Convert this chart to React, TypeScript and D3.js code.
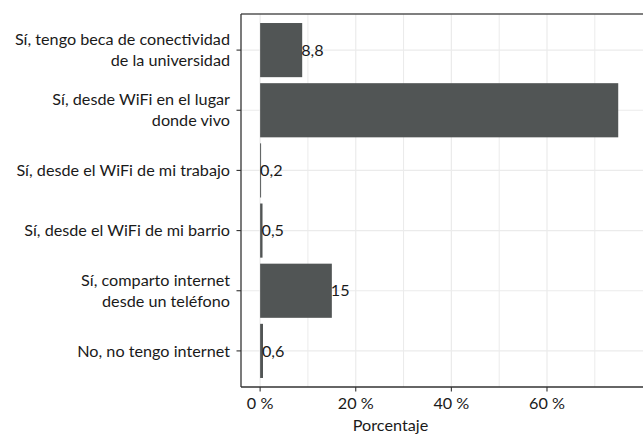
import React from "react";
import * as d3 from "d3";

const categories = [
  "Sí, tengo beca de conectividad\nde la universidad",
  "Sí, desde WiFi en el lugar\ndonde vivo",
  "Sí, desde el WiFi de mi trabajo",
  "Sí, desde el WiFi de mi barrio",
  "Sí, comparto internet\ndesde un teléfono",
  "No, no tengo internet",
];
const values = [8.8, 74.9, 0.2, 0.5, 15, 0.6];
const valueLabels = ["8,8", "", "0,2", "0,5", "15", "0,6"];
const xTicks = [0, 20, 40, 60];
const xMinor = [10, 30, 50, 70];
const xTickLabels = ["0 %", "20 %", "40 %", "60 %"];

const W = 643;
const H = 436;
const FONT = "Lato, 'Noto Sans', sans-serif";
const FS = 16.2;

export default function App() {
  const left = 241;
  const top = 14;
  const bottom = 387;
  const right = 645;
  const x = d3.scaleLinear().domain([-4, 80.5]).range([left, right]);
  const y = d3.scalePoint<string>().domain(categories).range([top, bottom]).padding(0.6);
  const step = y.step();
  const barH = step * 0.9;
  const barColor = "#515555";
  const grid = "#ebebeb";

  return (
    <svg width={W} height={H} style={{ position: "absolute", left: 0, top: 0, background: "#fff" }}>
      <rect x={0} y={0} width={W} height={H} fill="#fff" />
      {xMinor.map((v) => (
        <line key={"mi" + v} x1={x(v)} x2={x(v)} y1={top} y2={bottom} stroke={grid} strokeWidth={1} />
      ))}
      {xTicks.map((v) => (
        <line key={"ma" + v} x1={x(v)} x2={x(v)} y1={top} y2={bottom} stroke={grid} strokeWidth={1.2} />
      ))}
      {categories.map((c) => (
        <line key={"hg" + c} x1={left} x2={right} y1={y(c)} y2={y(c)} stroke={grid} strokeWidth={1.2} />
      ))}
      {categories.map((c, i) => (
        <rect
          key={"b" + c}
          x={x(0)}
          y={(y(c) as number) - barH / 2}
          width={x(values[i]) - x(0)}
          height={barH}
          fill={barColor}
        />
      ))}
      {categories.map((c, i) =>
        valueLabels[i] ? (
          <text
            key={"v" + c}
            x={x(values[i]) - 1}
            y={y(c) as number}
            dy="0.35em"
            fontFamily={FONT}
            fontSize={FS}
            fill="#1a1a1a"
          >
            {valueLabels[i]}
          </text>
        ) : null
      )}
      <line x1={left} x2={right} y1={top} y2={top} stroke="#555" strokeWidth={1.5} />
      <line x1={left} x2={left} y1={top} y2={bottom} stroke="#333" strokeWidth={1.3} />
      <line x1={left} x2={right} y1={bottom} y2={bottom} stroke="#333" strokeWidth={1.3} />
      {categories.map((c) => {
        const lines = c.split("\n");
        const cy = y(c) as number;
        const lh = 21;
        const start = cy - ((lines.length - 1) * lh) / 2;
        return (
          <g key={"yl" + c}>
            <line x1={left - 4.5} x2={left} y1={cy} y2={cy} stroke="#333" strokeWidth={1.1} />
            {lines.map((ln, j) => (
              <text
                key={j}
                x={left - 11}
                y={start + j * lh}
                dy="0.35em"
                textAnchor="end"
                fontFamily={FONT}
                fontSize={FS}
                fill="#1a1a1a"
              >
                {ln}
              </text>
            ))}
          </g>
        );
      })}
      {xTicks.map((v, i) => (
        <g key={"xt" + v}>
          <line x1={x(v)} x2={x(v)} y1={bottom} y2={bottom + 4.5} stroke="#333" strokeWidth={1.1} />
          <text
            x={x(v)}
            y={bottom + 16}
            dy="0.35em"
            textAnchor="middle"
            fontFamily={FONT}
            fontSize={FS}
            fill="#1a1a1a"
          >
            {xTickLabels[i]}
          </text>
        </g>
      ))}
      <text x={390.5} y={431} textAnchor="middle" fontFamily={FONT} fontSize={FS} fill="#1a1a1a">
        Porcentaje
      </text>
    </svg>
  );
}
